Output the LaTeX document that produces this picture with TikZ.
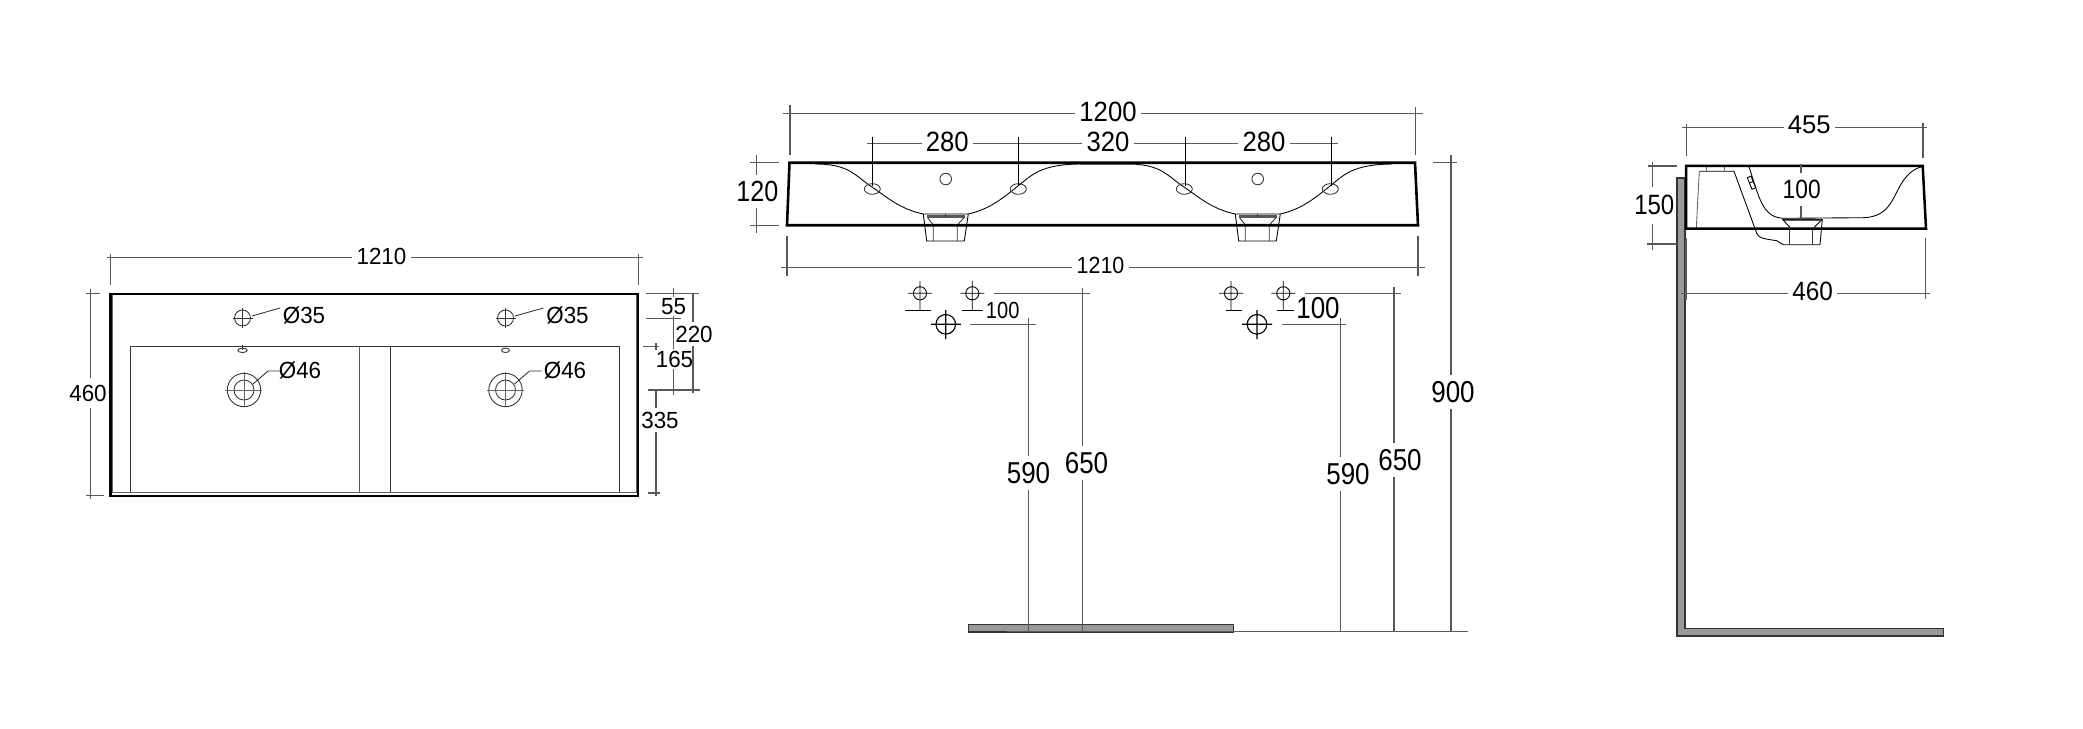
\documentclass[tikz,border=0pt]{standalone}
\usepackage{fontspec}
\setmainfont{Liberation Sans}
\newfontfamily\fa[FakeStretch=0.86]{Liberation Sans}
\newfontfamily\fb[FakeStretch=0.92]{Liberation Sans}
\newfontfamily\fc[FakeStretch=0.96]{Liberation Sans}
\tikzset{
  thin line/.style={draw=black!80,line width=.42pt},
  dimline/.style={draw=black!65,line width=.5pt},
  outline/.style={draw=black,line width=1.25pt,line join=miter},
  greyfill/.style={fill=black!40,draw=black!80,line width=.7pt},
  lbl/.style={font=\fontsize{#1}{#1}\selectfont,text=black,inner sep=0pt},
  hlbl/.style={lbl=#1,fill=white,inner xsep=2pt,inner ysep=1pt},
  vlbl/.style={lbl=#1,fill=white,inner xsep=.5pt,inner ysep=3pt}
}
\begin{document}
\begin{tikzpicture}[x=.48pt,y=-.48pt]
\useasboundingbox (0,0) rectangle (2083,729);
% ---------- TOP VIEW ----------
\draw[thin line,draw=black!60] (112.5,295) -- (112.5,492.5) -- (636,492.5) -- (636,295);
\draw[thin line] (130,492) -- (130,346.3) -- (619,346.3) -- (619,492);
\draw[dimline] (359.5,346.3) -- (359.5,492);
\draw[thin line] (390,346.3) -- (390,492);
\draw[outline] (110.5,294) rectangle (638,496);
% dims
\draw[dimline] (107,257.3) -- (643,257.3) (110.5,254) -- (110.5,285) (638.5,254) -- (638.5,285);
\node[hlbl=11.2pt] (ta) at (381.5,256) {\fc 1210};
\draw[dimline] (90.6,289) -- (90.6,499) (86,293.7) -- (100,293.7) (86,495.5) -- (104,495.5);
\node[vlbl=11.2pt] (tb) at (88,393) {\fc 460};
\draw[dimline] (646,293.7) -- (699,293.7) (646,318.3) -- (681,318.3) (643,346.3) -- (659,346.3) (648,390) -- (700,390) (648,493) -- (659.5,493);
\draw[dimline] (673.5,288) -- (673.5,297) (673.5,316) -- (673.5,349) (673.5,369) -- (673.5,395);
\draw[dimline] (693,293.7) -- (693,322) (693,346) -- (693,393);
\draw[dimline] (656,343) -- (656,350) (656,390) -- (656,408) (656,432) -- (656,496);
\node[lbl=11.2pt] (tc) at (673.5,306.7) {\fc 55};
\node[lbl=11.2pt] (td) at (694,334) {\fc 220};
\node[lbl=11.2pt] (te) at (674.5,359.3) {\fc 165};
\node[lbl=11.2pt] (tf) at (660,420) {\fc 335};
\foreach \cx/\lx/\sr in {242.5/280/4.7,505.5/543.5/4}{
  \draw[thin line] (\cx,318) circle[radius=8];
  \draw[thin line] ({\cx-10},318) -- ({\cx+10},318) (\cx,308) -- (\cx,328);
  \draw[thin line] ({\cx+9.5},316) -- (\lx,308);
  \draw[thin line] (\cx,350.3) ellipse[x radius=\sr,y radius=2.2];
}
\node[lbl=11.2pt] (d1) at (304,315.5) {\fc Ø35};
\node[lbl=11.2pt] (d2) at (567.5,315.5) {\fc Ø35};
\draw[thin line] (242.5,345) -- (242.5,350);
\foreach \cx in {244,505.5}{
  \draw[thin line] (\cx,390) circle[radius=16.7] (\cx,390) circle[radius=10];
  \draw[thin line,draw=black!60] ({\cx-19},390) -- ({\cx+18},390) (\cx,372) -- (\cx,407);
  \draw[thin line] ({\cx+9},384) -- ({\cx+24},371) -- ({\cx+36},371);
}
\node[lbl=11.2pt] (d3) at (300,370) {\fc Ø46};
\node[lbl=11.2pt] (d4) at (565,370) {\fc Ø46};
% ---------- FRONT VIEW ----------
\foreach \s in {0,312}{
\begin{scope}[shift={(\s,0)}]
  \draw[thin line,draw=black] (815,164) .. controls (850,164) and (855,176) .. (872,187) .. controls (888,198) and (900,209) .. (923.3,214);
  \draw[thin line,draw=black] (968.3,214) .. controls (990,209) and (1003,198) .. (1018,186) .. controls (1032,175) and (1040,164.5) .. (1080,164);
  \draw[thin line] (872.3,189) ellipse[x radius=8,y radius=5.3] (1018.3,189) ellipse[x radius=8,y radius=5.3];
  \draw[thin line] (945.7,179) circle[radius=5.8];
  \draw[line width=1.1pt,draw=black!65] (927,216.5) -- (965,216.5);
  \draw[thin line,draw=black] (923.3,214) -- (926.7,241) -- (964.3,241) -- (968.3,214) (923.3,214) -- (968.3,214);
  \draw[thin line] (927.7,217.7) -- (933.3,225) -- (933.3,241) (964,217.7) -- (957.3,225) -- (957.3,241);
  \draw[thin line] (945.7,214) -- (945.7,217);
\end{scope}}
\draw[thin line,draw=black!60] (1080,164) -- (1135,164);
\draw[outline] (789.5,162.7) -- (1415,162.7) -- (1418,225.3) -- (787,225.3) -- cycle;
% dims
\draw[dimline] (782.5,113.7) -- (1422.5,113.7) (790,105) -- (790,155) (1415.5,106.7) -- (1415.5,155);
\node[hlbl=13.4pt] (fa) at (1108,111.7) {\fb 1200};
\draw[dimline] (867,143.7) -- (1338,143.7);
\draw[thin line,draw=black] (872.6,136.7) -- (872.6,186) (1018.4,136.7) -- (1018.4,186) (1185,136.7) -- (1185,186) (1331,136.7) -- (1331,186);
\node[hlbl=13.4pt] (fb) at (947.2,142) {\fb 280};
\node[hlbl=13.4pt] (fc) at (1108,142) {\fb 320};
\node[hlbl=13.4pt] (fd) at (1264,142) {\fb 280};
\draw[dimline] (750,162.7) -- (779.3,162.7) (750,225.3) -- (779.3,225.3) (756.7,155) -- (756.7,232.7);
\node[vlbl=14pt] (fe) at (757.3,191.7) {\fa 120};
\draw[dimline] (781,267.3) -- (1424.5,267.3) (787,235.7) -- (787,275.7) (1418,235.7) -- (1418,275.7);
\node[hlbl=11.2pt] (ff) at (1100.5,265.7) {\fb 1210};
% taps
\foreach \a/\b/\c/\d in {905/931/962.3/983,1225.5/1242/1276.5/1294}{
\draw[thin line,draw=black] (\a,310) -- (\b,310) (\c,310) -- (\d,310);
}
\foreach \cx in {920,972.3,1231,1283.3}{
  \draw[thin line,draw=black] (\cx,293.3) circle[radius=6.6] ({\cx-12},293.3) -- ({\cx+12},293.3) (\cx,281) -- (\cx,310);
}
\foreach \cx in {945.8,1257}{
  \draw[thin line,draw=black,line width=.55pt] (\cx,324.3) circle[radius=9.8] ({\cx-15},324.3) -- ({\cx+15},324.3) (\cx,310) -- (\cx,339);
}
\draw[dimline] (993.8,293.3) -- (1089.6,293.3) (1082.7,288) -- (1082.7,631.7);
\draw[dimline] (970.4,324.3) -- (1035.8,324.3) (1028.5,318) -- (1028.5,631.7);
\draw[dimline] (1305,293.3) -- (1400.5,293.3) (1394,286.7) -- (1394,631.7);
\draw[dimline] (1282,324.3) -- (1346,324.3) (1340.5,318) -- (1340.5,631.7);
\draw[dimline] (1433,162.7) -- (1457,162.7) (1451,155) -- (1451,631.7);
\draw[greyfill] (968.5,624.3) rectangle (1233.5,632);
\draw[dimline] (1007,631.5) -- (1468,631.5);
\draw[dimline] (1028.5,624) -- (1028.5,631.7) (1082.7,624) -- (1082.7,631.7);
\node[lbl=11.2pt] (fg) at (1002.7,310) {\fa 100};
\node[lbl=14.5pt] (fh) at (1318,308.3) {\fa 100};
\node[vlbl=14.5pt] (fi) at (1028.5,472.7) {\fa 590};
\node[vlbl=14.5pt] (fj) at (1086.5,462.7) {\fa 650};
\node[vlbl=14.5pt] (fk) at (1348,474.3) {\fa 590};
\node[vlbl=14.5pt] (fl) at (1400,460) {\fa 650};
\node[vlbl=14.5pt] (fm) at (1453,392.3) {\fa 900};
% ---------- SIDE VIEW ----------
\draw[greyfill] (1677,178) -- (1685,178) -- (1685,628.3) -- (1943.7,628.3) -- (1943.7,636) -- (1677,636) -- cycle;
\draw[thin line,draw=black!60] (1696.3,228.3) -- (1699.3,171.3);
\draw[thin line,draw=black] (1699.3,171.3) -- (1734,171.3) -- (1754.3,226.7) -- (1756.7,233.3) .. controls (1759,238) and (1762,238.5) .. (1776.7,240.7) -- (1783.3,244.7) -- (1820,244.7) -- (1822.3,219.3);
\draw[thin line,draw=black!60] (1706,166) -- (1706,171.3) (1724.3,166) -- (1724.3,171.3);
\draw[thin line,draw=black] (1749,166.7) .. controls (1755,185) and (1760,205) .. (1768,212) .. controls (1772,216.5) and (1778,218) .. (1783.3,218.3) -- (1863.3,217.7) .. controls (1888,217) and (1892,200) .. (1900,186) .. controls (1906,175) and (1914,168) .. (1922.7,166.7);
\draw[thin line,draw=black] (1747.3,177.7) -- (1751,176) -- (1755.7,187.7) -- (1752,189.3) -- cycle (1749.2,183) -- (1753,181.5);
\draw[line width=1.1pt,draw=black!65] (1784,220) -- (1820,220);
\draw[thin line,draw=black] (1782.3,219.3) -- (1790,227.3) (1822.3,219.3) -- (1814.3,227.3) (1782.3,219.3) -- (1822.3,219.3);
\draw[thin line] (1789,228.3) -- (1789,244.7) (1812.3,228.3) -- (1812.3,244.7);
\draw[outline,line width=1.2pt] (1686,165.8) -- (1922.7,165.8) -- (1926,228.5) -- (1686,228.5) -- cycle;
% dims
\draw[dimline] (1682.3,127.3) -- (1927.3,127.3) (1686.3,124) -- (1686.3,155.7) (1923,122.7) -- (1923,158.3);
\node[hlbl=12.3pt] (sa) at (1809.3,125.3) {455};
\draw[dimline] (1652.3,161.7) -- (1652.3,250) (1647.7,166) -- (1676.7,166) (1646.7,244) -- (1676.7,244);
\node[vlbl=13.4pt,inner ysep=4pt] (sb) at (1654.3,205.3) {\fa 150};
\draw[dimline] (1681,293.7) -- (1930,293.7) (1686,238.3) -- (1686,300) (1925.7,238.3) -- (1925.7,299);
\node[hlbl=12.7pt] (sc) at (1812.7,291.7) {\fb 460};
\draw[dimline] (1801,164.3) -- (1801,218.3);
\node[vlbl=12.7pt,inner ysep=3.5pt] (sd) at (1801.7,189.3) {\fa 100};
\end{tikzpicture}
\end{document}
